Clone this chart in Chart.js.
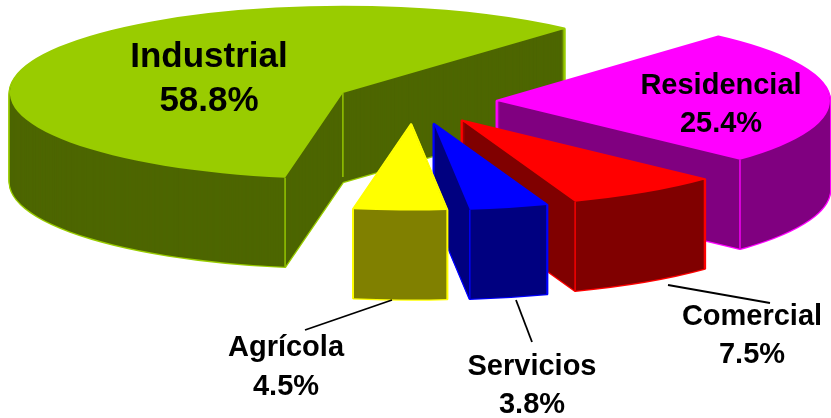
<!DOCTYPE html>
<html>
<head>
<meta charset="utf-8">
<style>html,body{margin:0;padding:0;background:#fff}canvas{display:block}</style>
<script src="https://cdn.jsdelivr.net/npm/chart.js@4"></script>
</head>
<body>
<canvas id="c" width="831" height="418"></canvas>
<script>
const categories = ['Industrial', 'Residencial', 'Comercial', 'Servicios', 'Agrícola'];
const shares = [58.8, 25.4, 7.5, 3.8, 4.5];
const topColors = ['#99CC00', '#FF00FF', '#FF0000', '#0000FF', '#FFFF00'];
const wallColors = ['#4D6600', '#800080', '#800000', '#000080', '#808000'];
const explodePx = [79, 83, 87, 88, 87];
const labelSpots = [[209, 57, 101, 35], [721, 86, 124, 29], [752, 317, 355, 29], [532, 367, 405, 29], [286, 348, 387, 29]];
const leaderLines = [null, null, [668, 285, 770, 303], [516, 300, 532, 342], [392, 300, 305, 330]];

const RX = 333, RY = 86, DEPTH = 89, CX = 414, CY = 102, BASE_R = 100;
const sx = RX / BASE_R, sy = RY / BASE_R;

const pie3d = {
  id: 'pie3d',
  beforeDatasetsDraw(chart) {
    const ctx = chart.ctx;
    const arcs = chart.getDatasetMeta(0).data;
    arcs.forEach((el, i) => {
      const mid = (el.startAngle + el.endAngle) / 2;
      const off = el.options.offset / 4;
      const ax = CX + Math.cos(mid) * off * sx;
      const ay = CY + Math.sin(mid) * off * sy;
      const sectorPath = d => {
        ctx.beginPath();
        ctx.moveTo(ax, ay + d);
        ctx.ellipse(ax, ay + d, RX, RY, 0, el.startAngle, el.endAngle);
        ctx.closePath();
      };
      const drawEl = (color, d) => {
        const base = el.options;
        el.options = Object.assign({}, base, { backgroundColor: color, borderWidth: 0, offset: 0 });
        ctx.save();
        ctx.translate(ax, ay + d);
        ctx.scale(sx, sy);
        ctx.translate(-el.x, -el.y);
        el.draw(ctx);
        ctx.restore();
        el.options = base;
      };
      // light silhouette of the extruded body
      ctx.save();
      ctx.strokeStyle = topColors[i];
      ctx.lineWidth = 2.6;
      ctx.lineJoin = 'round';
      for (let d = DEPTH; d >= 0; d -= 1) { sectorPath(d); ctx.stroke(); }
      ctx.restore();
      // dark walls
      for (let d = DEPTH; d >= 1; d -= 1) drawEl(wallColors[i], d);
      // vertical corner edges (the apex edge stops short so it stays behind the top face)
      ctx.save();
      ctx.strokeStyle = topColors[i];
      ctx.lineWidth = 1.4;
      [[ax, ay, DEPTH - 5],
       [ax + Math.cos(el.startAngle) * RX, ay + Math.sin(el.startAngle) * RY, DEPTH],
       [ax + Math.cos(el.endAngle) * RX, ay + Math.sin(el.endAngle) * RY, DEPTH]].forEach(p => {
        ctx.beginPath();
        ctx.moveTo(p[0], p[1]);
        ctx.lineTo(p[0], p[1] + p[2]);
        ctx.stroke();
      });
      ctx.restore();
      // top face
      drawEl(topColors[i], 0);
    });
    return false;
  },
  afterDraw(chart) {
    const ctx = chart.ctx;
    ctx.save();
    ctx.strokeStyle = '#000';
    ctx.lineWidth = 1.8;
    leaderLines.forEach(l => {
      if (!l) return;
      ctx.beginPath();
      ctx.moveTo(l[0], l[1]);
      ctx.lineTo(l[2], l[3]);
      ctx.stroke();
    });
    ctx.fillStyle = '#000';
    ctx.textAlign = 'center';
    ctx.textBaseline = 'middle';
    categories.forEach((name, i) => {
      const s = labelSpots[i];
      ctx.font = 'bold ' + s[3] + 'px "Liberation Sans", Arial, sans-serif';
      ctx.fillText(name, s[0], s[1]);
      ctx.fillText(shares[i].toFixed(1) + '%', s[0], s[2]);
    });
    ctx.restore();
  }
};

new Chart(document.getElementById('c'), {
  type: 'pie',
  data: {
    labels: categories,
    datasets: [{
      data: shares,
      backgroundColor: topColors,
      borderWidth: 0,
      offset: explodePx.map(p => p / sx * 4)
    }]
  },
  options: {
    responsive: false,
    animation: false,
    rotation: 190,
    radius: BASE_R,
    layout: { padding: 0 },
    events: [],
    plugins: { legend: { display: false }, tooltip: { enabled: false } }
  },
  plugins: [pie3d]
});
</script>
</body>
</html>
